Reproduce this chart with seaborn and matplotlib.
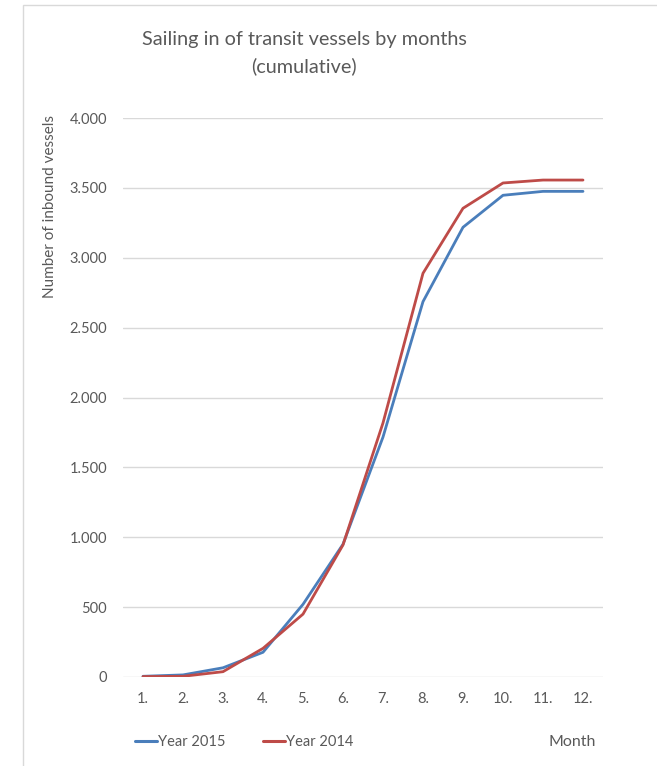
import matplotlib
matplotlib.use("Agg")
import matplotlib.pyplot as plt
from matplotlib.lines import Line2D
import seaborn as sns
import pandas as pd

months = ["1.", "2.", "3.", "4.", "5.", "6.", "7.", "8.", "9.", "10.", "11.", "12."]
year_2015 = [5, 15, 66, 177, 520, 950, 1717, 2686, 3218, 3447, 3475, 3475]
year_2014 = [3, 5, 38, 205, 450, 945, 1818, 2889, 3354, 3535, 3556, 3556]
series_names = ["Year 2015", "Year 2014"]
y_ticks = [0, 500, 1000, 1500, 2000, 2500, 3000, 3500, 4000]
y_tick_labels = ["0", "500", "1.000", "1.500", "2.000", "2.500", "3.000", "3.500", "4.000"]

colors = {"Year 2015": "#4A7EBB", "Year 2014": "#BE4B48"}
text_color = "#595959"

df = pd.DataFrame({
    "Month": months * 2,
    "Vessels": year_2015 + year_2014,
    "Series": [series_names[0]] * len(months) + [series_names[1]] * len(months),
})

sns.set_theme(style="white")
plt.rcParams["font.family"] = ["Lato", "DejaVu Sans"]

W, H = 657, 766
fig = plt.figure(figsize=(W / 100, H / 100), dpi=100)
fig.patch.set_facecolor("white")

# light frame around the chart area
fig.add_artist(plt.Rectangle((23 / W, -0.1), 1.1, 1 - 5 / H + 0.1,
                             transform=fig.transFigure, fill=False,
                             edgecolor="#d9d9d9", linewidth=1.0))

ax = fig.add_axes([123 / W, 1 - 677 / H, (603 - 123) / W, (677 - 118) / H])
sns.lineplot(data=df, x="Month", y="Vessels", hue="Series", palette=colors,
             linewidth=2.0, ax=ax, legend=False, sort=False)

ax.set_xlim(-0.5, len(months) - 0.5)
ax.set_ylim(0, 4000)
ax.set_yticks(y_ticks)
ax.set_yticklabels(y_tick_labels)
ax.grid(axis="y", color="#d9d9d9", linewidth=1.0)
ax.set_axisbelow(True)
for s in ax.spines.values():
    s.set_visible(False)
ax.tick_params(axis="both", length=0, labelsize=10.5, colors=text_color)
ax.tick_params(axis="x", pad=11)
ax.tick_params(axis="y", pad=11.5)
ax.set_xlabel("")
ax.set_ylabel("")

fig.text(50 / W, 1 - 207 / H, "Number of inbound vessels", rotation=90,
         ha="center", va="center", fontsize=11, color=text_color)

fig.text(304 / W, 1 - 39 / H, "Sailing in of transit vessels by months",
         ha="center", va="center", fontsize=14.3, color=text_color)
fig.text(304 / W, 1 - 66 / H, "(cumulative)",
         ha="center", va="center", fontsize=14.3, color=text_color)

handles = [Line2D([0], [0], color=colors[n], linewidth=2.2) for n in series_names]
fig.legend(handles, series_names, loc="center left",
           bbox_to_anchor=(135 / W, 1 - 742 / H), ncol=2, frameon=False,
           handlelength=1.5, handletextpad=0.05, columnspacing=2.6,
           fontsize=10.5, labelcolor=text_color, borderaxespad=0, borderpad=0)

fig.text(596 / W, 1 - 742 / H, "Month", ha="right", va="center",
         fontsize=11.5, color=text_color)

fig.savefig("out.png", dpi=100, facecolor="white")
